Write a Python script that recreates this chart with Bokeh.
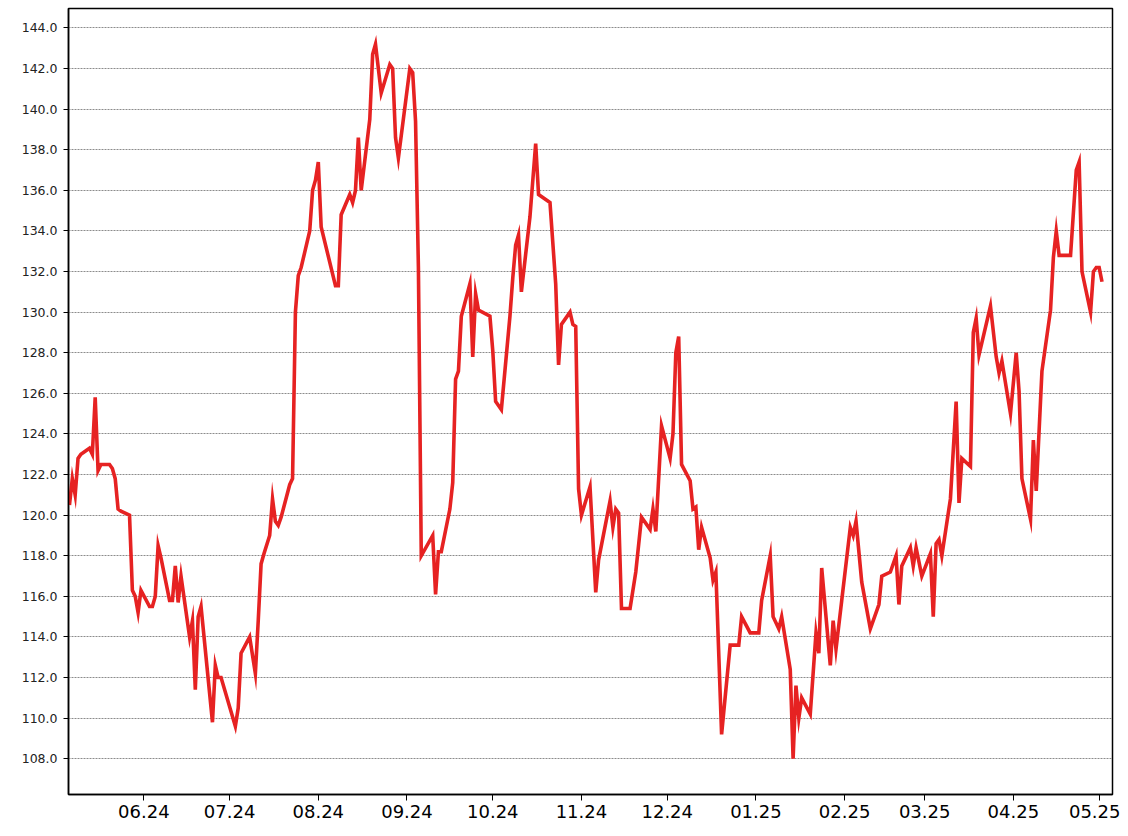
from datetime import datetime
from bokeh.plotting import figure
from bokeh.models import Range1d, FixedTicker, NumeralTickFormatter, DatetimeTickFormatter, MonthsTicker
from bokeh.embed import file_html
from bokeh.resources import INLINE

dates = [
    "2024-05-06", "2024-05-07", "2024-05-08", "2024-05-09", "2024-05-10", "2024-05-13", "2024-05-14",
    "2024-05-15", "2024-05-16", "2024-05-17", "2024-05-20", "2024-05-21", "2024-05-22", "2024-05-23",
    "2024-05-24", "2024-05-27", "2024-05-28", "2024-05-29", "2024-05-30", "2024-05-31", "2024-06-03",
    "2024-06-04", "2024-06-05", "2024-06-06", "2024-06-07", "2024-06-10", "2024-06-11", "2024-06-12",
    "2024-06-13", "2024-06-14", "2024-06-17", "2024-06-18", "2024-06-19", "2024-06-20", "2024-06-21",
    "2024-06-25", "2024-06-26", "2024-06-27", "2024-06-28", "2024-07-03", "2024-07-04", "2024-07-05",
    "2024-07-08", "2024-07-10", "2024-07-11", "2024-07-12", "2024-07-13", "2024-07-15", "2024-07-16",
    "2024-07-17", "2024-07-18", "2024-07-19", "2024-07-22", "2024-07-23", "2024-07-24", "2024-07-25",
    "2024-07-26", "2024-07-29", "2024-07-30", "2024-07-31", "2024-08-01", "2024-08-02", "2024-08-07",
    "2024-08-08", "2024-08-09", "2024-08-12", "2024-08-13", "2024-08-14", "2024-08-15", "2024-08-16",
    "2024-08-19", "2024-08-20", "2024-08-21", "2024-08-23", "2024-08-26", "2024-08-27", "2024-08-28",
    "2024-08-29", "2024-09-02", "2024-09-03", "2024-09-04", "2024-09-05", "2024-09-06", "2024-09-10",
    "2024-09-11", "2024-09-12", "2024-09-13", "2024-09-16", "2024-09-17", "2024-09-18", "2024-09-19",
    "2024-09-20", "2024-09-23", "2024-09-24", "2024-09-25", "2024-09-26", "2024-09-30", "2024-10-01",
    "2024-10-02", "2024-10-04", "2024-10-07", "2024-10-08", "2024-10-09", "2024-10-10", "2024-10-11",
    "2024-10-14", "2024-10-16", "2024-10-17", "2024-10-21", "2024-10-23", "2024-10-24", "2024-10-25",
    "2024-10-28", "2024-10-29", "2024-10-30", "2024-10-31", "2024-11-01", "2024-11-04", "2024-11-06",
    "2024-11-07", "2024-11-11", "2024-11-12", "2024-11-13", "2024-11-14", "2024-11-15", "2024-11-18",
    "2024-11-20", "2024-11-22", "2024-11-25", "2024-11-26", "2024-11-27", "2024-11-29", "2024-12-02",
    "2024-12-03", "2024-12-04", "2024-12-05", "2024-12-06", "2024-12-09", "2024-12-10", "2024-12-11",
    "2024-12-12", "2024-12-13", "2024-12-16", "2024-12-17", "2024-12-18", "2024-12-20", "2024-12-23",
    "2024-12-26", "2024-12-27", "2024-12-30", "2025-01-02", "2025-01-03", "2025-01-06", "2025-01-07",
    "2025-01-09", "2025-01-10", "2025-01-13", "2025-01-14", "2025-01-15", "2025-01-16", "2025-01-17",
    "2025-01-20", "2025-01-22", "2025-01-23", "2025-01-24", "2025-01-27", "2025-01-28", "2025-01-29",
    "2025-01-31", "2025-02-03", "2025-02-04", "2025-02-05", "2025-02-07", "2025-02-10", "2025-02-13",
    "2025-02-14", "2025-02-17", "2025-02-19", "2025-02-20", "2025-02-21", "2025-02-24", "2025-02-25",
    "2025-02-26", "2025-02-28", "2025-03-03", "2025-03-04", "2025-03-05", "2025-03-06", "2025-03-07",
    "2025-03-10", "2025-03-12", "2025-03-13", "2025-03-14", "2025-03-17", "2025-03-18", "2025-03-19",
    "2025-03-20", "2025-03-24", "2025-03-26", "2025-03-27", "2025-03-28", "2025-03-31", "2025-04-02",
    "2025-04-03", "2025-04-04", "2025-04-07", "2025-04-08", "2025-04-09", "2025-04-11", "2025-04-14",
    "2025-04-15", "2025-04-16", "2025-04-17", "2025-04-21", "2025-04-23", "2025-04-24", "2025-04-25",
    "2025-04-28", "2025-04-29", "2025-04-30", "2025-05-01", "2025-05-02",
]

values = [
    120.5, 121.8, 121.0, 122.8, 123.0, 123.3, 123.0,
    125.8, 122.2, 122.5, 122.5, 122.3, 121.8, 120.3,
    120.2, 120.0, 116.3, 116.0, 115.2, 116.3, 115.5,
    115.5, 116.0, 118.5, 117.9, 115.8, 115.8, 117.5,
    115.7, 117.0, 114.0, 114.8, 111.4, 115.0, 115.5,
    109.8, 112.6, 112.0, 112.0, 109.6, 110.5, 113.2,
    114.0, 112.2, 114.8, 117.6, 118.1, 119.0, 120.8,
    119.7, 119.5, 119.9, 121.5, 121.8, 130.0, 131.8,
    132.2, 134.0, 136.0, 136.5, 137.4, 134.2, 131.3,
    131.3, 134.8, 135.8, 135.4, 136.0, 138.6, 136.0,
    139.5, 142.7, 143.2, 140.8, 142.2, 142.0, 138.6,
    137.6, 142.0, 141.8, 139.4, 132.2, 118.0, 119.0,
    116.1, 118.2, 118.2, 120.3, 121.6, 126.7, 127.1,
    129.8, 131.4, 127.8, 130.9, 130.1, 129.8, 128.1,
    125.6, 125.2, 129.8, 131.7, 133.3, 133.8, 131.0,
    134.7, 138.3, 135.8, 135.4, 131.4, 127.4, 129.4,
    130.0, 129.4, 129.3, 121.3, 120.0, 121.4, 116.2,
    117.8, 120.7, 119.4, 120.3, 120.1, 115.4, 115.4,
    117.2, 119.9, 119.3, 120.3, 119.2, 124.4, 122.8,
    124.0, 128.0, 128.8, 122.5, 121.7, 120.3, 120.4,
    118.3, 119.4, 117.9, 116.8, 117.2, 109.2, 113.6,
    113.6, 115.0, 114.2, 114.2, 115.8, 118.0, 115.0,
    114.4, 115.0, 112.4, 108.0, 111.6, 110.0, 111.0,
    110.2, 114.2, 113.2, 117.4, 112.6, 114.8, 113.4,
    115.8, 119.4, 119.0, 119.7, 116.7, 114.4, 115.6,
    117.0, 117.2, 118.0, 115.6, 117.5, 118.4, 117.5,
    118.4, 117.0, 118.1, 115.0, 118.6, 118.8, 118.0,
    120.8, 125.6, 120.6, 122.8, 122.4, 129.0, 129.7,
    127.9, 130.3, 127.8, 127.0, 127.6, 125.0, 128.0,
    126.1, 121.8, 119.8, 123.7, 121.2, 127.1, 130.1,
    132.7, 134.0, 132.8, 132.8, 137.0, 137.4, 132.0,
    130.0, 132.0, 132.2, 132.2, 131.5,
]

y_ticks = [108, 110, 112, 114, 116, 118, 120, 122, 124, 126, 128, 130, 132, 134, 136, 138, 140, 142, 144]
x_start = "2024-05-05 16:00"
x_end = "2025-05-05 16:00"

xs = [datetime.strptime(d, "%Y-%m-%d") for d in dates]
vmin, vmax = min(values), max(values)
pad = 0.05 * (vmax - vmin)

p = figure(
    width=1120, height=827,
    x_axis_type="datetime",
    x_range=Range1d(datetime.strptime(x_start, "%Y-%m-%d %H:%M"), datetime.strptime(x_end, "%Y-%m-%d %H:%M")),
    y_range=Range1d(vmin - pad, vmax + pad),
    output_backend="svg", toolbar_location=None,
    min_border_left=68, min_border_right=8, min_border_top=8, min_border_bottom=33,
)
p.background_fill_color = "white"
p.border_fill_color = "white"
p.outline_line_color = "black"
p.outline_line_width = 1.5

p.line(xs, values, line_color="#e62222", line_width=3.6, line_join="miter")

# y axis
p.yaxis.ticker = FixedTicker(ticks=y_ticks)
p.yaxis.formatter = NumeralTickFormatter(format="0.0")
p.yaxis.major_label_text_font = "DejaVu Sans"
p.yaxis.major_label_text_font_size = "12.5px"
p.yaxis.major_label_text_color = "#222222"
p.yaxis.major_tick_out = 5
p.yaxis.major_tick_in = 0
p.yaxis.minor_tick_out = 0
p.yaxis.minor_tick_in = 0
p.yaxis.major_label_standoff = 6
p.yaxis.axis_line_width = 1.5
p.yaxis.axis_line_color = "black"
p.yaxis.major_tick_line_color = "black"

# x axis
p.xaxis.ticker = MonthsTicker(months=list(range(1, 13)))
fmt = "%m.%y"
p.xaxis.formatter = DatetimeTickFormatter(
    years=fmt, months=fmt, days=fmt, hours=fmt, minutes=fmt, seconds=fmt,
    milliseconds=fmt, microseconds=fmt, hourmin=fmt, minsec=fmt,
)
p.xaxis.major_label_text_font = "DejaVu Sans"
p.xaxis.major_label_text_font_size = "18px"
p.xaxis.major_label_text_color = "black"
p.xaxis.major_tick_out = 6
p.xaxis.major_tick_in = 0
p.xaxis.minor_tick_out = 0
p.xaxis.minor_tick_in = 0
p.xaxis.major_label_standoff = 4
p.xaxis.axis_line_width = 1.5
p.xaxis.axis_line_color = "black"
p.xaxis.major_tick_line_color = "black"

p.xgrid.grid_line_color = None
p.ygrid.grid_line_color = "#8c8c8c"
p.ygrid.grid_line_width = 1
p.ygrid.grid_line_dash = "2 1"

open("out.html", "w").write(file_html(p, INLINE))
